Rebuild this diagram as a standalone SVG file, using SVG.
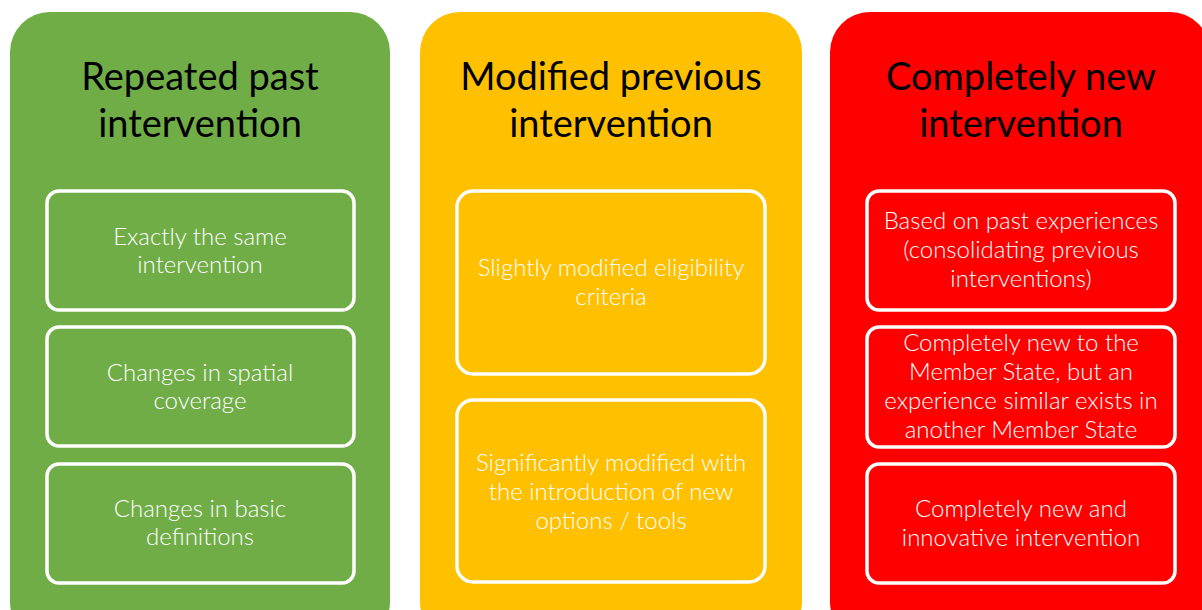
<svg xmlns="http://www.w3.org/2000/svg" width="1202" height="610" viewBox="0 0 1202 610">
<style>
.title{font-family:Lato,"Open Sans","Liberation Sans",sans-serif;font-size:38px;fill:#000;text-anchor:middle;font-weight:400}
.body{font-family:Lato,"Open Sans","Liberation Sans",sans-serif;font-size:24px;fill:#fff;text-anchor:middle;font-weight:300}
.box{stroke:#fff;stroke-width:3.5}
</style>
<rect width="1202" height="610" fill="#fff"/>
<g id="panel-green">
<rect x="10" y="12" width="380" height="630" rx="40" fill="#70AD47"/>
<text class="title" x="200" y="90">Repeated past</text>
<text class="title" x="200" y="137">intervention</text>
</g>
<g id="panel-yellow">
<rect x="420" y="12" width="382" height="630" rx="40" fill="#FFC000"/>
<text class="title" x="611" y="90">Modified previous</text>
<text class="title" x="611" y="137">intervention</text>
</g>
<g id="panel-red">
<rect x="830" y="12" width="380" height="630" rx="40" fill="#FF0000"/>
<text class="title" x="1021" y="90">Completely new</text>
<text class="title" x="1021" y="137">intervention</text>
</g>
<g id="g1">
<rect class="box" x="47" y="191" width="307" height="119" rx="12" fill="#70AD47"/>
<text class="body" x="200" y="245">Exactly the same</text>
<text class="body" x="200" y="273">intervention</text>
</g>
<g id="g2">
<rect class="box" x="47" y="327" width="307" height="119" rx="12" fill="#70AD47"/>
<text class="body" x="200" y="381">Changes in spatial</text>
<text class="body" x="200" y="409">coverage</text>
</g>
<g id="g3">
<rect class="box" x="47" y="464" width="307" height="119" rx="12" fill="#70AD47"/>
<text class="body" x="200" y="517">Changes in basic</text>
<text class="body" x="200" y="545">definitions</text>
</g>
<g id="y1">
<rect class="box" x="457" y="191" width="308" height="183" rx="16" fill="#FFC000"/>
<text class="body" x="611" y="276">Slightly modified eligibility</text>
<text class="body" x="611" y="305">criteria</text>
</g>
<g id="y2">
<rect class="box" x="457" y="400" width="308" height="182" rx="16" fill="#FFC000"/>
<text class="body" x="611" y="471">Significantly modified with</text>
<text class="body" x="611" y="500">the introduction of new</text>
<text class="body" x="611" y="529">options / tools</text>
</g>
<g id="r1">
<rect class="box" x="867" y="191" width="308" height="119" rx="12" fill="#FF0000"/>
<text class="body" x="1021" y="229">Based on past experiences</text>
<text class="body" x="1021" y="258">(consolidating previous</text>
<text class="body" x="1021" y="287">interventions)</text>
</g>
<g id="r2">
<rect class="box" x="867" y="327" width="308" height="120" rx="12" fill="#FF0000"/>
<text class="body" x="1021" y="351">Completely new to the</text>
<text class="body" x="1021" y="380">Member State, but an</text>
<text class="body" x="1021" y="409">experience similar exists in</text>
<text class="body" x="1021" y="438">another Member State</text>
</g>
<g id="r3">
<rect class="box" x="867" y="464" width="308" height="119" rx="12" fill="#FF0000"/>
<text class="body" x="1021" y="517">Completely new and</text>
<text class="body" x="1021" y="546">innovative intervention</text>
</g>
<g id="connectors"></g>
</svg>
